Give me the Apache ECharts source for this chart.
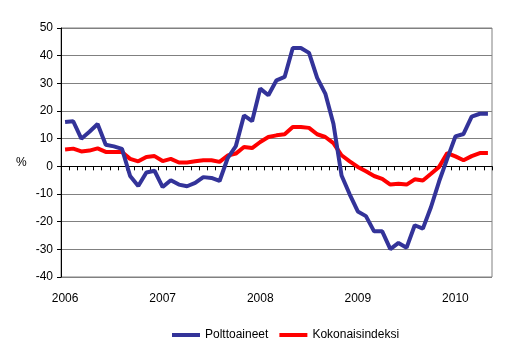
<!DOCTYPE html>
<html>
<head>
<meta charset="utf-8">
<script src="https://cdn.jsdelivr.net/npm/echarts@6/dist/echarts.min.js"></script>
<style>html,body{margin:0;padding:0;background:#fff;}#c{width:512px;height:355px;}</style>
</head>
<body>
<div id="c"></div>
<script>
var years = [2006, 2007, 2008, 2009, 2010];
var months = [];
(function(){
  for (var y = 2006; y <= 2010; y++) {
    for (var m = 1; m <= 12; m++) {
      if (y === 2010 && m > 5) break;
      months.push(y + '-' + (m < 10 ? '0' + m : m));
    }
  }
})();
var polttoaineet = [16, 16.3, 10, 12.5, 15.3, 7.8, 7.2, 6.3, -3.5, -7.1, -2.2, -1.6,
  -7.5, -5, -6.6, -7.2, -6, -3.9, -4.2, -5.3, 3, 7.3, 18.4, 16.3,
  28.1, 25.7, 31.1, 32.3, 42.8, 42.8, 41, 32, 26.3, 15.4, -3.3, -10.1,
  -16.3, -18, -23.5, -23.5, -29.9, -27.7, -29.4, -21.3, -22.5, -14.7, -5.4, 2.8,
  10.8, 11.7, 18, 19, 19];
var kokonaisindeksi = [6.1, 6.4, 5.4, 5.7, 6.5, 5.2, 5.2, 5.2, 2.7, 1.8, 3.4, 3.7,
  1.9, 2.7, 1.4, 1.4, 1.8, 2.2, 2.2, 1.6, 3.9, 4.6, 7, 6.6,
  8.8, 10.6, 11.2, 11.6, 14.2, 14.2, 13.9, 11.6, 10.6, 8.4, 4, 1.8,
  -0.2, -1.8, -3.5, -4.5, -6.6, -6.3, -6.6, -4.7, -5.1, -2.7, -0.2, 4.8,
  3.6, 2.2, 3.7, 4.8, 4.8];
var yMin = -40, yMax = 50, yStep = 10;

var chart = echarts.init(document.getElementById('c'), null, {renderer: 'canvas'});
var font = 'Liberation Sans, Arial, sans-serif';
chart.setOption({
  animation: false,
  backgroundColor: '#fff',
  grid: {left: 61, right: 20, top: 28, bottom: 78, show: true, borderColor: '#808080', borderWidth: 1, backgroundColor: 'transparent'},
  legend: {
    bottom: 9, left: 167,
    icon: 'rect', itemWidth: 28, itemHeight: 4, itemGap: 11,
    textStyle: {fontFamily: font, fontSize: 12, color: '#000'},
    data: ['Polttoaineet', 'Kokonaisindeksi']
  },
  graphic: [{
    type: 'text', left: 16, top: 157,
    style: {text: '%', font: '12px ' + font, fill: '#000'}
  }],
  xAxis: {
    type: 'category',
    data: months,
    boundaryGap: true,
    axisLine: {lineStyle: {color: '#000', width: 1}},
    axisTick: {show: true, interval: 0, length: 4, lineStyle: {color: '#000'}},
    axisLabel: {
      interval: 0, margin: 16,
      fontFamily: font, fontSize: 12, color: '#000',
      formatter: function (v) {
        var p = v.split('-');
        return p[1] === '01' ? p[0] : '';
      }
    },
    splitLine: {show: false}
  },
  yAxis: {
    type: 'value',
    min: yMin, max: yMax, interval: yStep,
    axisLine: {show: true, lineStyle: {color: '#000', width: 1}},
    axisTick: {show: true, length: 4, lineStyle: {color: '#000'}},
    axisLabel: {fontFamily: font, fontSize: 12, color: '#000', margin: 8},
    splitLine: {show: true, lineStyle: {color: '#808080', width: 1}}
  },
  series: [
    {
      name: 'Polttoaineet', type: 'line', data: polttoaineet,
      symbol: 'none', z: 3,
      lineStyle: {color: '#333399', width: 4},
      itemStyle: {color: '#333399'}
    },
    {
      name: 'Kokonaisindeksi', type: 'line', data: kokonaisindeksi,
      symbol: 'none', z: 2,
      lineStyle: {color: '#ff0000', width: 4},
      itemStyle: {color: '#ff0000'}
    }
  ]
});
</script>
</body>
</html>
